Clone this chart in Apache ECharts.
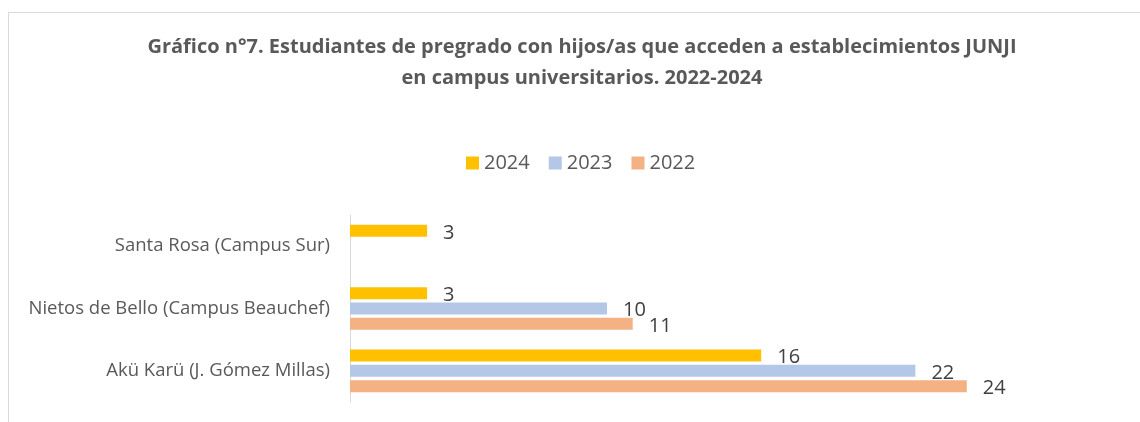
<!DOCTYPE html>
<html>
<head>
<meta charset="utf-8">
<script src="https://cdn.jsdelivr.net/npm/echarts@6/dist/echarts.min.js"></script>
<style>
	html, body { margin: 0; padding: 0; background: #fff; }
	#chart { width: 1140px; height: 422px; }
</style>
</head>
<body>
<div id="chart"></div>
<script>
// datos
var categorias = ['Santa Rosa (Campus Sur)', 'Nietos de Bello (Campus Beauchef)', 'Akü Karü (J. Gómez Millas)'];
var anios = ['2024', '2023', '2022'];
var valores2024 = [3, 3, 16];
var valores2023 = [null, 10, 22];
var valores2022 = [null, 11, 24];
var colores = ['#FFC000', '#B4C7E7', '#F4B183'];

var chart = echarts.init(document.getElementById('chart'));

function serie(nombre, datos, color) {
	return {
		name: nombre,
		type: 'bar',
		data: datos,
		barWidth: 12,
		barGap: '28%',
		itemStyle: { color: color },
		label: {
			show: true,
			position: 'right',
			distance: 16,
			offset: [0, 2],
			fontSize: 20,
			fontFamily: 'Open Sans',
			color: '#404040'
		}
	};
}

var option = {
	animation: false,
	title: {
		text: 'Gráfico n°7. Estudiantes de pregrado con hijos/as que acceden a establecimientos JUNJI\nen campus universitarios. 2022-2024',
		left: 577,
		top: 27,
		textAlign: 'center',
		textStyle: {
			fontSize: 20,
			fontWeight: 'bold',
			fontFamily: 'Open Sans',
			color: '#595959',
			lineHeight: 31
		}
	},
	legend: {
		data: anios,
		top: 148,
		left: 461,
		itemWidth: 13,
		itemHeight: 13,
		itemGap: 19,
		icon: 'rect',
		textStyle: { fontSize: 20, fontFamily: 'Open Sans', color: '#595959' }
	},
	graphic: [{
		type: 'rect',
		shape: { x: 8.5, y: 12.5, width: 1200, height: 500 },
		style: { fill: 'none', stroke: '#d9d9d9', lineWidth: 1 },
		silent: true
	}],
	grid: { left: 350, top: 215, width: 771, height: 187 },
	xAxis: {
		type: 'value',
		min: 0,
		max: 30,
		show: false
	},
	yAxis: {
		type: 'category',
		inverse: true,
		data: categorias,
		axisLine: { show: true, lineStyle: { color: '#d9d9d9', width: 1 } },
		axisTick: { show: false },
		axisLabel: { margin: 20, fontSize: 18.5, fontFamily: 'Open Sans', color: '#595959' }
	},
	series: [
		serie(anios[0], valores2024, colores[0]),
		serie(anios[1], valores2023, colores[1]),
		serie(anios[2], valores2022, colores[2])
	]
};

chart.setOption(option);
window.onresize = chart.resize;
</script>
</body>
</html>
